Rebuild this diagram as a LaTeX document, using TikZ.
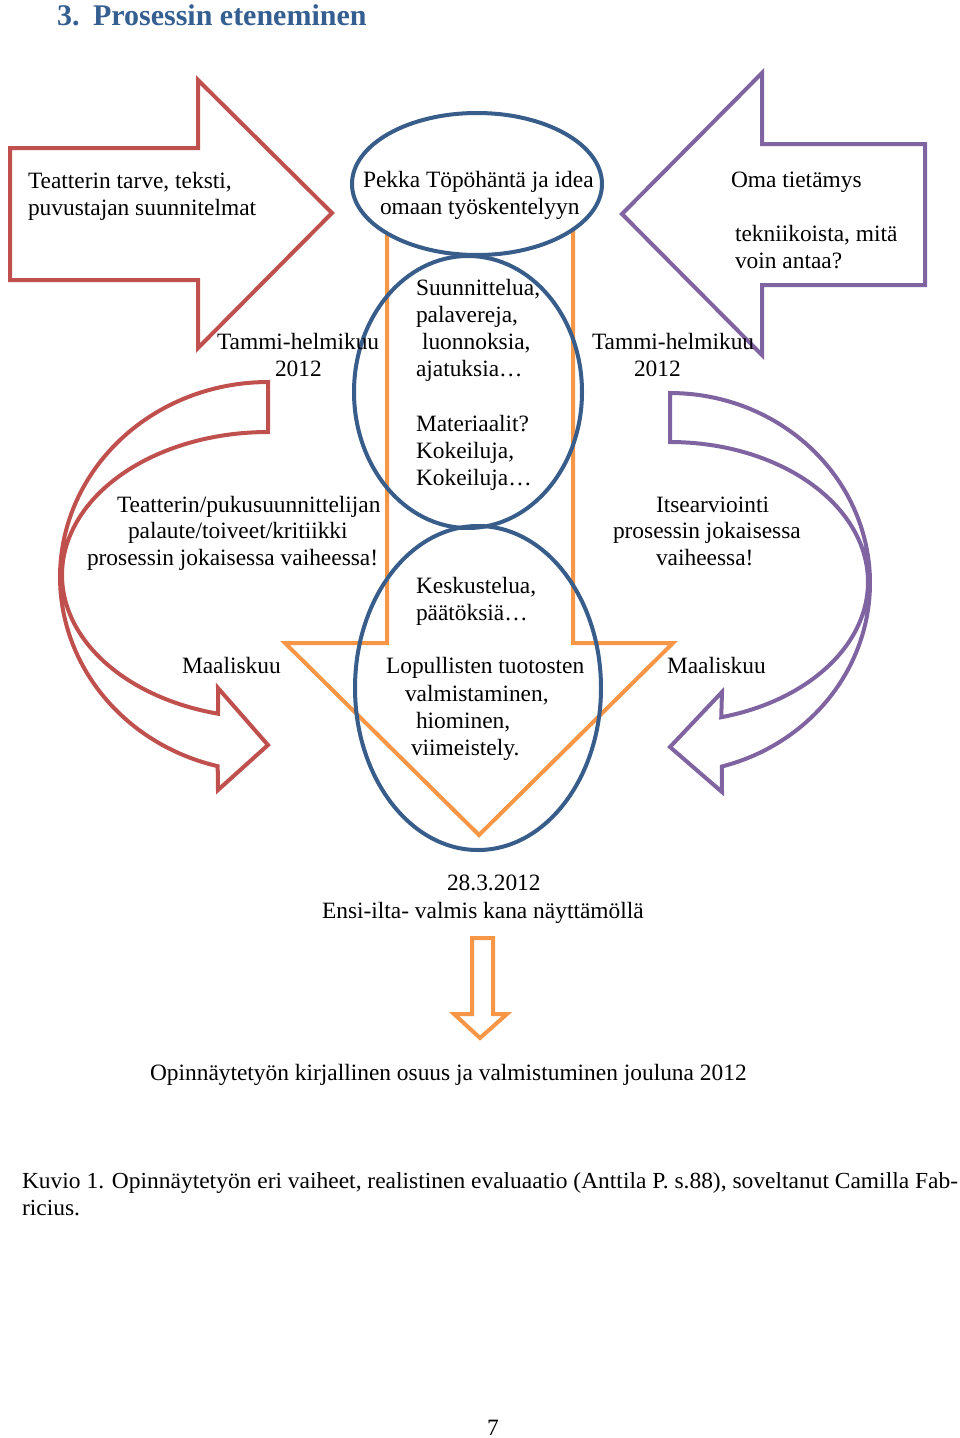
\documentclass[tikz,border=0pt]{standalone}
\usepackage{fontspec}
\setmainfont{Liberation Serif}
\usepackage{graphicx}
\definecolor{redc}{HTML}{C0504D}
\definecolor{purp}{HTML}{8064A2}
\definecolor{orac}{HTML}{F79646}
\definecolor{bluc}{HTML}{385D8A}
\definecolor{titc}{HTML}{365F91}
\newsavebox\capA
\newsavebox\capB
\begin{document}
\sbox\capA{\fontsize{23}{27}\selectfont Kuvio 1. Opinnäytetyön eri vaiheet, realistinen evaluaatio (Anttila P. s.88), soveltanut Camilla Fab-}%
\sbox\capB{\fontsize{23}{27}\selectfont ricius.}%
\pgfmathsetmacro\capfac{936/\the\wd\capA}%
\begin{tikzpicture}[x=1pt,y=-1pt,
  txt/.style={inner sep=0pt, outer sep=0pt, font=\fontsize{23.4}{27}\selectfont},
  lt/.style={txt, anchor=base west},
  shp/.style={line width=4pt, line join=miter},
]
\fill[white] (0,0) rectangle (960,1438);
\useasboundingbox (0,0) rectangle (960,1438);

% title
\node[lt, font=\fontsize{30}{34}\selectfont\bfseries, text=titc] (tnum) at (57,25) {3.};
\node[lt, font=\fontsize{30}{34}\selectfont\bfseries, text=titc] (ttl) at (93,25) {Prosessin eteneminen};

% straight arrows
\draw[shp, redc] (10,148) -- (198,148) -- (198,80) -- (332,213) -- (198,348) -- (198,280) -- (10,280) -- cycle;
\draw[shp, purp] (925,144) -- (762,144) -- (762,73) -- (622,214) -- (762,355) -- (762,285) -- (925,285) -- cycle;

% big orange down arrow
\draw[shp, orac] (387,200) -- (387,643) -- (285,643) -- (479,835) -- (673,643) -- (573,643) -- (573,200) -- cycle;

% ellipses
\draw[shp, bluc] (468,392) ellipse (114 and 136);
\draw[shp, bluc] (478,688) ellipse (123 and 162);
\draw[shp, bluc, fill=white] (477,184) ellipse (125 and 71);

% curved arrows
\draw[shp, redc] (268,382) -- plot[domain=90:256, samples=90] ({268+208*cos(\x)},{577-195*sin(\x)})
  -- (218,790) -- (268,745) -- (218,688)
  -- plot[domain=256:90, samples=90] ({268+206*cos(\x)},{575-143*sin(\x)}) -- cycle;
\draw[shp, purp] (670,393) -- plot[domain=90:-75, samples=90] ({670+200*cos(\x)},{583-190*sin(\x)})
  -- (722,792) -- (670,747) -- (722,692)
  -- plot[domain=-75:90, samples=90] ({670+198*cos(\x)},{582-140*sin(\x)}) -- cycle;

% small orange arrow
\draw[shp, orac] (472,938) -- (472,1014) -- (454,1014) -- (480,1038) -- (507,1014) -- (493,1014) -- (493,938) -- cycle;

% texts
\node[lt] (t1a) at (28,188) {Teatterin tarve, teksti,};
\node[lt] (t1b) at (28,215) {puvustajan suunnitelmat};
\node[lt] (tm1a) at (217,349) {Tammi-helmikuu};
\node[lt] (tm1b) at (275,376) {2012};
\node[lt] (pk1) at (363,187) {Pekka Töpöhäntä ja idea};
\node[lt] (pk2) at (380,214) {omaan työskentelyyn};
\node[lt] (om1) at (731,187) {Oma tietämys};
\node[lt] (om2) at (735,241) {tekniikoista, mitä};
\node[lt] (om3) at (735,268) {voin antaa?};
\node[lt] (tm2a) at (592,349) {Tammi-helmikuu};
\node[lt] (tm2b) at (634,376) {2012};
\node[lt] (s1) at (416,295) {Suunnittelua,};
\node[lt] (s2) at (416,322) {palavereja,};
\node[lt] (s3) at (422,349) {luonnoksia,};
\node[lt] (s4) at (416,376) {ajatuksia…};
\node[lt] (m1) at (416,431) {Materiaalit?};
\node[lt] (m2) at (416,458) {Kokeiluja,};
\node[lt] (m3) at (416,485) {Kokeiluja…};
\node[lt] (k1) at (416,593) {Keskustelua,};
\node[lt] (k2) at (416,620) {päätöksiä…};
\node[lt] (f1) at (117,512) {Teatterin/pukusuunnittelijan};
\node[lt] (f2) at (128,538) {palaute/toiveet/kritiikki};
\node[lt] (f3) at (87,565) {prosessin jokaisessa vaiheessa!};
\node[lt] (ml1) at (182,673) {Maaliskuu};
\node[lt] (i1) at (656,512) {Itsearviointi};
\node[lt] (i2) at (613,538) {prosessin jokaisessa};
\node[lt] (i3) at (656,565) {vaiheessa!};
\node[lt] (ml2) at (667,673) {Maaliskuu};
\node[lt] (l1) at (386,673) {Lopullisten tuotosten};
\node[lt] (l2) at (405,701) {valmistaminen,};
\node[lt] (l3) at (416,728) {hiominen,};
\node[lt] (l4) at (411,755) {viimeistely.};
\node[lt] (d1) at (447,890) {28.3.2012};
\node[lt] (d2) at (322,918) {Ensi-ilta- valmis kana näyttämöllä};
\node[lt] (op) at (150,1080) {Opinnäytetyön kirjallinen osuus ja valmistuminen jouluna 2012};

% caption
\node[lt] (cap1) at (22,1188) {\scalebox{\capfac}[1]{\usebox\capA}};
\node[lt] (cap2) at (22,1215) {\scalebox{\capfac}[1]{\usebox\capB}};

\node[lt] (pg) at (487,1435) {7};
\end{tikzpicture}
\end{document}
